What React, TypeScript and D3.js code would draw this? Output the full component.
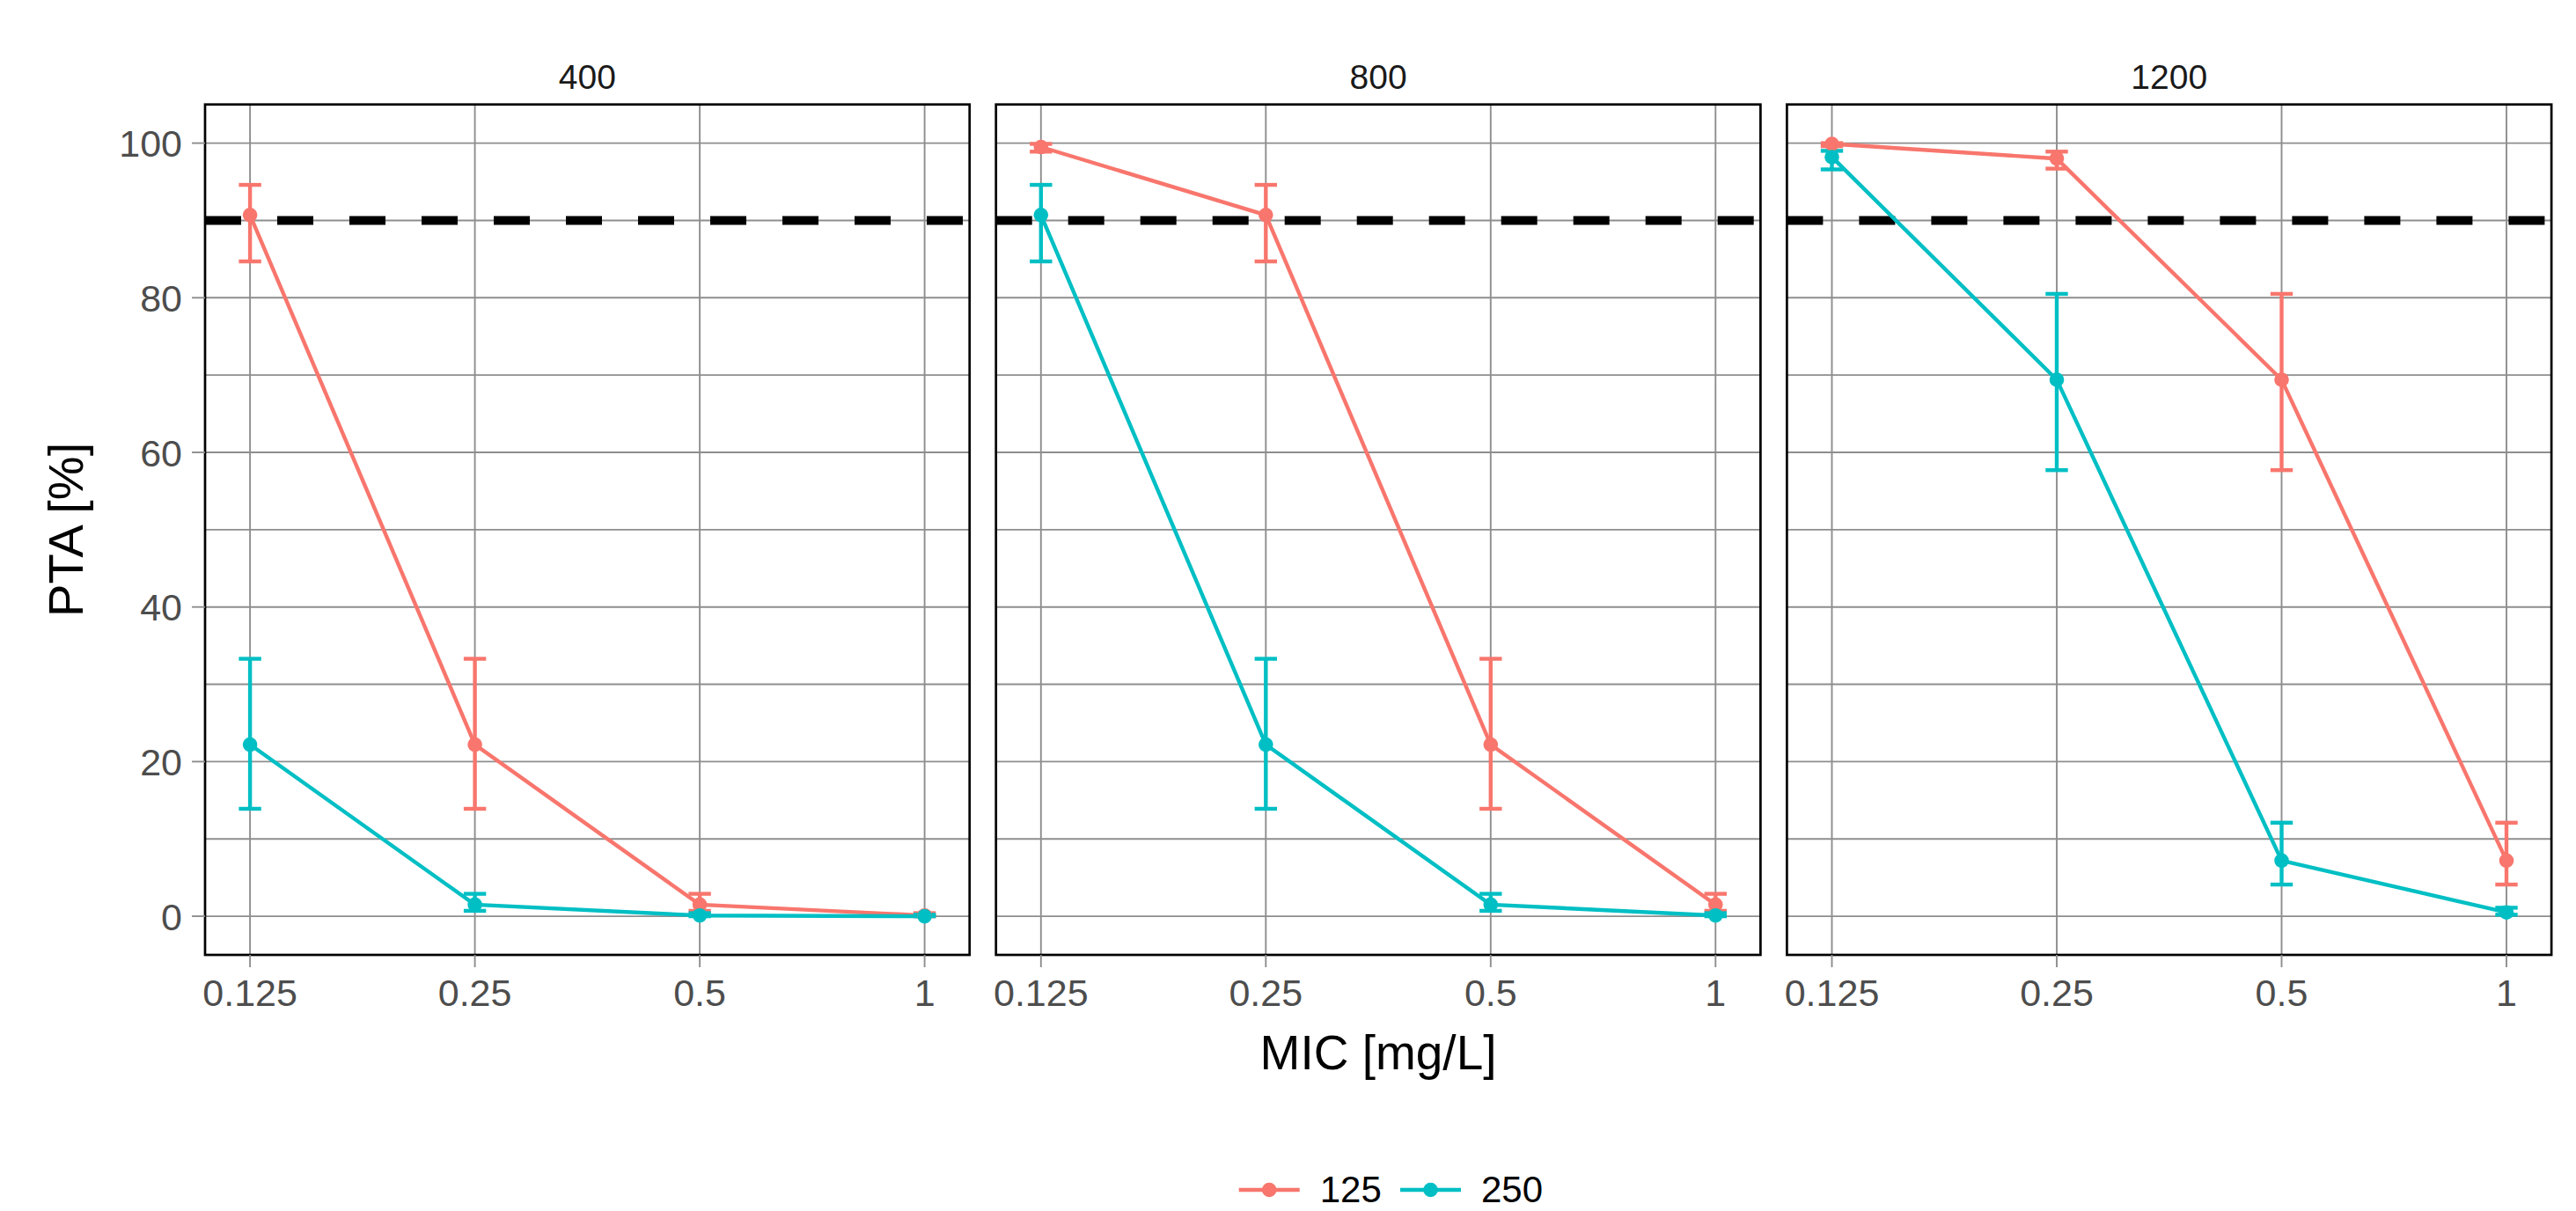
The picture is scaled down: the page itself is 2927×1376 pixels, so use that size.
import React from 'react';
import * as d3 from 'd3';

// categories
const micLevels = ['0.125', '0.25', '0.5', '1'];
const doseLevels = ['400', '800', '1200'];
const groupLevels = ['125', '250'];
const groupColors = ['#F8766D', '#00BFC4'];
const yTicks = [0, 20, 40, 60, 80, 100];
const yMinor = [10, 30, 50, 70, 90];
const target = 90;

// PTA values, per dose panel and group
const pta400_125 = [90.7, 22.2, 1.5, 0.1];
const lo400_125 = [84.7, 13.9, 0.7, 0.0];
const hi400_125 = [94.6, 33.3, 2.9, 0.4];
const pta400_250 = [22.2, 1.5, 0.1, 0.0];
const lo400_250 = [13.9, 0.7, 0.0, 0.0];
const hi400_250 = [33.3, 2.9, 0.4, 0.2];

const pta800_125 = [99.5, 90.7, 22.2, 1.5];
const lo800_125 = [98.9, 84.7, 13.9, 0.7];
const hi800_125 = [99.9, 94.6, 33.3, 2.9];
const pta800_250 = [90.7, 22.2, 1.5, 0.1];
const lo800_250 = [84.7, 13.9, 0.7, 0.0];
const hi800_250 = [94.6, 33.3, 2.9, 0.4];

const pta1200_125 = [99.9, 98.0, 69.4, 7.2];
const lo1200_125 = [99.6, 96.7, 57.7, 4.1];
const hi1200_125 = [100, 98.9, 80.5, 12.1];
const pta1200_250 = [98.2, 69.4, 7.2, 0.5];
const lo1200_250 = [96.6, 57.7, 4.1, 0.2];
const hi1200_250 = [99.0, 80.5, 12.1, 1.1];

const panels = [
  [
    { mean: pta400_125, lo: lo400_125, hi: hi400_125 },
    { mean: pta400_250, lo: lo400_250, hi: hi400_250 },
  ],
  [
    { mean: pta800_125, lo: lo800_125, hi: hi800_125 },
    { mean: pta800_250, lo: lo800_250, hi: hi800_250 },
  ],
  [
    { mean: pta1200_125, lo: lo1200_125, hi: hi1200_125 },
    { mean: pta1200_250, lo: lo1200_250, hi: hi1200_250 },
  ],
];

const W = 2927;
const H = 1376;
const panelTop = 118.7;
const panelBottom = 1085;
const panelW = 868.7;
const panelGap = 30;
const firstLeft = 233;

const font = '"Liberation Sans", Arial, sans-serif';
const gridColor = '#8e8e8e';
const tickText = '#4D4D4D';
const lw = 4.4;

const y = d3.scaleLinear().domain([-5, 105]).range([panelBottom, panelTop]);

const Panel = ({ idx }: { idx: number }) => {
  const left = firstLeft + idx * (panelW + panelGap);
  const x = d3.scalePoint<string>().domain(micLevels).range([left, left + panelW]).padding(0.2);
  const line = d3
    .line<number>()
    .x((_, i) => x(micLevels[i]) as number)
    .y((d) => y(d));
  const series = panels[idx];

  return (
    <g>
      {/* grid */}
      {yMinor.map((t) => (
        <line key={'m' + t} x1={left} x2={left + panelW} y1={y(t)} y2={y(t)} stroke={gridColor} strokeWidth={1.9} />
      ))}
      {yTicks.map((t) => (
        <line key={'g' + t} x1={left} x2={left + panelW} y1={y(t)} y2={y(t)} stroke={gridColor} strokeWidth={1.9} />
      ))}
      {micLevels.map((m) => (
        <line key={'v' + m} x1={x(m)} x2={x(m)} y1={panelTop} y2={panelBottom} stroke={gridColor} strokeWidth={1.9} />
      ))}

      {/* target line */}
      <line
        x1={left}
        x2={left + panelW}
        y1={y(target)}
        y2={y(target)}
        stroke="#000"
        strokeWidth={10}
        strokeDasharray="41,41"
      />

      {/* lines */}
      {series.map((s, gi) => (
        <path key={'l' + gi} d={line(s.mean) || ''} fill="none" stroke={groupColors[gi]} strokeWidth={lw} />
      ))}

      {/* error bars */}
      {series.map((s, gi) => (
        <g key={'e' + gi} stroke={groupColors[gi]} strokeWidth={lw}>
          {micLevels.map((m, i) => {
            const cx = x(m) as number;
            return (
              <g key={m}>
                <line x1={cx} x2={cx} y1={y(s.lo[i])} y2={y(s.hi[i])} />
                <line x1={cx - 12.7} x2={cx + 12.7} y1={y(s.lo[i])} y2={y(s.lo[i])} />
                <line x1={cx - 12.7} x2={cx + 12.7} y1={y(s.hi[i])} y2={y(s.hi[i])} />
              </g>
            );
          })}
        </g>
      ))}

      {/* points */}
      {series.map((s, gi) => (
        <g key={'p' + gi} fill={groupColors[gi]}>
          {s.mean.map((v, i) => (
            <circle key={i} cx={x(micLevels[i])} cy={y(v)} r={8.3} />
          ))}
        </g>
      ))}

      {/* border */}
      <rect x={left} y={panelTop} width={panelW} height={panelBottom - panelTop} fill="none" stroke="#000" strokeWidth={2.7} />

      {/* strip title */}
      <text x={left + panelW / 2} y={101} textAnchor="middle" fontSize={39} fill="#1A1A1A" fontFamily={font}>
        {doseLevels[idx]}
      </text>

      {/* x axis */}
      {micLevels.map((m) => (
        <g key={'xt' + m}>
          <line x1={x(m)} x2={x(m)} y1={panelBottom} y2={panelBottom + 14} stroke={gridColor} strokeWidth={1.9} />
          <text x={x(m)} y={1143} textAnchor="middle" fontSize={43} fill={tickText} fontFamily={font}>
            {m}
          </text>
        </g>
      ))}

      {/* y axis on first panel */}
      {idx === 0 &&
        yTicks.map((t) => (
          <g key={'yt' + t}>
            <line x1={left - 15} x2={left} y1={y(t)} y2={y(t)} stroke={gridColor} strokeWidth={1.9} />
            <text x={left - 26} y={y(t) + 15.5} textAnchor="end" fontSize={43} fill={tickText} fontFamily={font}>
              {t}
            </text>
          </g>
        ))}
    </g>
  );
};

const App = () => {
  const legendX = [1407.7, 1591];
  return (
    <svg
      width={W}
      height={H}
      style={{ position: 'absolute', left: 0, top: 0, background: '#fff' }}
      fontFamily={font}
    >
      <rect width={W} height={H} fill="#fff" />
      {doseLevels.map((d, i) => (
        <Panel key={d} idx={i} />
      ))}

      {/* axis titles */}
      <text x={(firstLeft + firstLeft + 3 * panelW + 2 * panelGap) / 2} y={1215} textAnchor="middle" fontSize={55} fill="#000">
        MIC [mg/L]
      </text>
      <text
        transform={`translate(94, ${(panelTop + panelBottom) / 2}) rotate(-90)`}
        textAnchor="middle"
        fontSize={56}
        fill="#000"
      >
        PTA [%]
      </text>

      {/* legend */}
      {groupLevels.map((g, i) => (
        <g key={g}>
          <line x1={legendX[i]} x2={legendX[i] + 69} y1={1352} y2={1352} stroke={groupColors[i]} strokeWidth={lw} />
          <circle cx={legendX[i] + 34.5} cy={1352} r={8.3} fill={groupColors[i]} />
          <text x={legendX[i] + 92} y={1366} fontSize={42} fill="#000">
            {g}
          </text>
        </g>
      ))}
    </svg>
  );
};

export default App;
